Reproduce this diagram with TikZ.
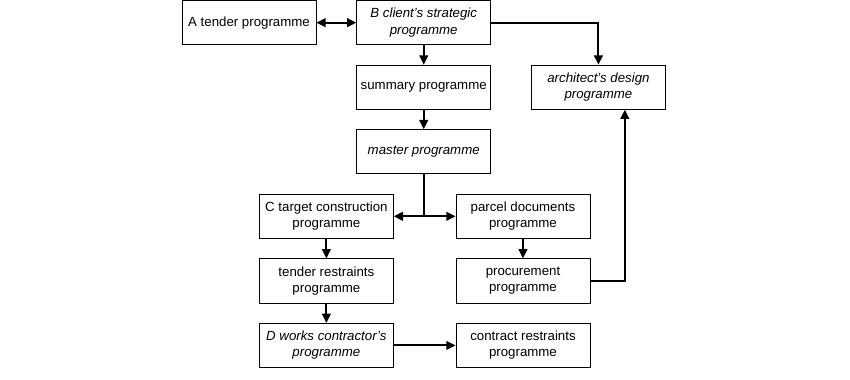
\documentclass[tikz,border=0pt]{standalone}
\usepackage{fontspec}
\setmainfont{Liberation Sans}
\usetikzlibrary{positioning,arrows.meta,calc}

\begin{document}
\begin{tikzpicture}[node distance=0.52cm and 1.06cm,
  progbox/.style={rectangle,draw=black,line width=0.6pt,align=center,font=\fontsize{10}{12.3}\selectfont,minimum width=3.55cm,minimum height=1.17cm,inner sep=2pt},
  itbox/.style={progbox,font=\fontsize{10}{12.3}\selectfont\itshape},
  link/.style={-{Triangle[length=7pt,width=6.5pt]},line width=1.5pt}]
\useasboundingbox (-6.6,0.6) rectangle (15.93,-9.47);
\node[progbox] (tender) {A tender programme};
\node[itbox,right=of tender] (client) {B client's strategic\\programme};
\node[progbox,below=of client] (summary) {summary programme};
\node[itbox,below=of summary] (master) {master programme};
\node[itbox,right=of summary] (arch) {architect's design\\programme};
\node[progbox,below=of master,xshift=-2.58cm] (target) {C target construction\\programme};
\node[progbox,right=1.64cm of target] (parcel) {parcel documents\\programme};
\node[progbox,below=of target] (restr) {tender restraints\\programme};
\node[itbox,below=of restr] (works) {D works contractor's\\programme};
\node[progbox,below=of parcel] (procure) {procurement\\programme};
\node[progbox,below=of procure] (contract) {contract restraints\\programme};
\coordinate (split) at (master.south |- target.east);
\coordinate (up) at ([xshift=0.7cm]arch.south);
\draw[link,{Triangle[length=7pt,width=6.5pt]}-{Triangle[length=7pt,width=6.5pt]}] (tender) -- (client);
\foreach \x/\y in {client/summary,summary/master,target/restr,restr/works,parcel/procure,works/contract} \draw[link] (\x)--(\y);
\draw[line width=1.5pt] (master.south) -- (split);
\draw[link] (split) -- (target.east);
\draw[link] (split) -- (parcel.west);
\draw[link] (client.east) -| (arch.north);
\draw[link] (procure.east) -| (up);
\end{tikzpicture}
\end{document}
